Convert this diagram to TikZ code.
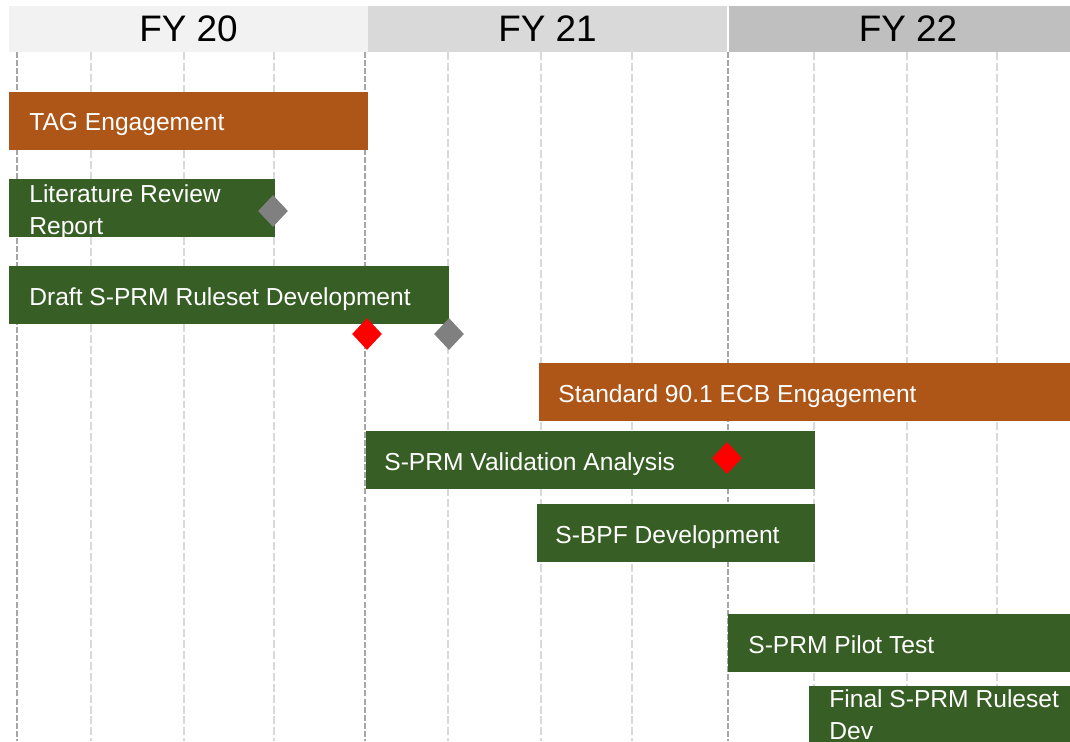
\documentclass[tikz,border=0pt]{standalone}
\usepackage{fontspec}
\setmainfont{Liberation Sans}
\usetikzlibrary{shapes.geometric}

\definecolor{fytwenty}{HTML}{F2F2F2}
\definecolor{fytwentyone}{HTML}{D9D9D9}
\definecolor{fytwentytwo}{HTML}{BFBFBF}
\definecolor{gridmajor}{HTML}{A6A6A6}
\definecolor{gridminor}{HTML}{D9D9D9}
\definecolor{rust}{HTML}{AE5618}
\definecolor{forest}{HTML}{375E24}
\definecolor{gate}{HTML}{FF0000}
\definecolor{done}{HTML}{808080}

\begin{document}
\begin{tikzpicture}[x=0.02cm, y=-0.02cm,
		major/.style={line width=1.1pt, color=gridmajor, dash pattern=on 3.4pt off 1.2pt},
		minor/.style={line width=1.1pt, color=gridminor, dash pattern=on 4.5pt off 1.7pt},
		year/.style={font=\fontsize{21}{25}\selectfont},
		task/.style={anchor=base west, inner sep=0pt, text=white, align=left, font=\fontsize{14}{18}\selectfont},
		milestone/.style={diamond, inner sep=0pt, minimum width=0.6cm, minimum height=0.64cm}]
			%%%%% START %%%%%
			
			\useasboundingbox (0, 0) rectangle (1070, 741);
			\clip (0, 0) rectangle (1070, 741);
			
			% fiscal year header
			\fill[fytwenty] (9, 6) rectangle (368, 52);
			\fill[fytwentyone] (368, 6) rectangle (727, 52);
			\fill[fytwentytwo] (729, 6) rectangle (1070, 52);
			\node[year] (fy20) at (188.5, 29) {FY 20};
			\node[year] (fy21) at (547.5, 29) {FY 21};
			\node[year] (fy22) at (908, 29) {FY 22};
			
			% quarter lines
			\foreach \x in {91, 184, 274, 448, 541, 632, 814, 907, 997}
				\draw[minor] (\x, 52) -- (\x, 741);
			\foreach \x in {17, 365, 728}
				\draw[major] (\x, 52) -- (\x, 741);
			
			% tasks (base of two-line labels is the last line)
			\fill[rust] (9, 92) rectangle (368, 150);
			\node[task] (tag) at (29, 130) {TAG Engagement};
			
			\fill[forest] (9, 179) rectangle (275, 237);
			\node[task] (litreview) at (29, 234) {Literature Review\\Report};
			
			\fill[forest] (9, 266) rectangle (449, 324);
			\node[task] (draftrules) at (29, 305) {Draft S-PRM Ruleset Development};
			
			\fill[rust] (539, 363) rectangle (1070, 421);
			\node[task] (ecb) at (558, 402) {Standard 90.1 ECB Engagement};
			
			\fill[forest] (366, 431) rectangle (815, 489);
			\node[task] (validation) at (384, 470) {S-PRM Validation Analysis};
			
			\fill[forest] (537, 504) rectangle (815, 562);
			\node[task] (sbpf) at (555, 543) {S-BPF Development};
			
			\fill[forest] (728, 614) rectangle (1070, 672);
			\node[task] (pilot) at (748, 653) {S-PRM Pilot Test};
			
			\fill[forest] (809, 686) rectangle (1070, 743);
			\node[task] (finalrules) at (829, 739) {Final S-PRM Ruleset\\Dev};
			
			% milestones
			\node[milestone, fill=done] (litdone) at (273, 211) {};
			\node[milestone, fill=gate] (draftgate) at (367, 334) {};
			\node[milestone, fill=done] (draftdone) at (449, 334) {};
			\node[milestone, fill=gate] (validgate) at (727, 458) {};
			
			%%%%% END %%%%%
		\end{tikzpicture}
\end{document}
